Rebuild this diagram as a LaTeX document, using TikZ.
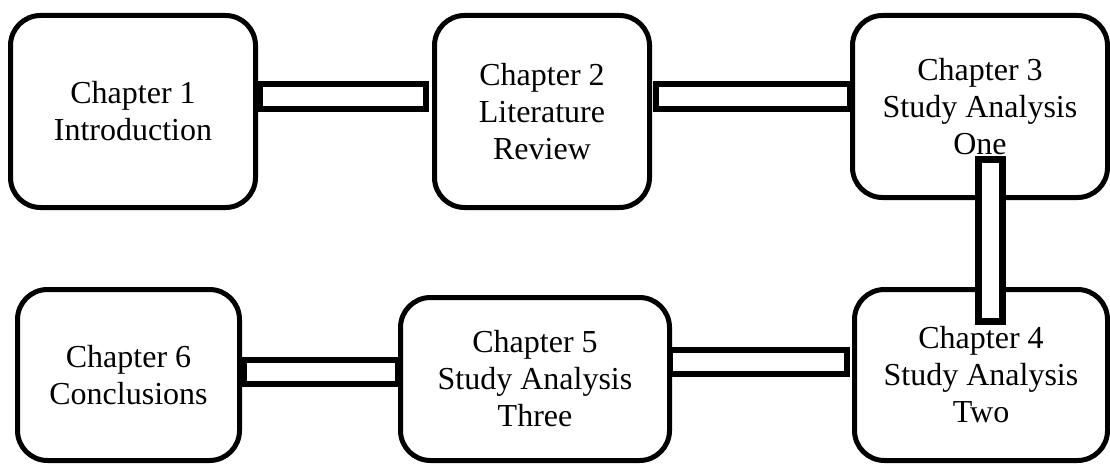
\documentclass[tikz,border=0pt]{standalone}
\usepackage{fontspec}
\setmainfont{Liberation Serif}
\usetikzlibrary{calc}
\begin{document}
\begin{tikzpicture}[x=1pt,y=-1pt,
  box/.style={draw, line width=5pt, rounded corners=30pt, fill=white, inner sep=0pt, outer sep=0pt,
    align=center, font=\fontsize{32}{37}\selectfont},
  bar/.style={draw, line width=6pt, fill=white},
  vbar/.style={draw, line width=7pt, fill=white}]
\useasboundingbox (0,0) rectangle (1110,465);
\node[box, minimum width=245pt, minimum height=192pt] (c1) at (133,111.5) {Chapter 1\\Introduction};
\node[box, minimum width=215pt, minimum height=192pt] (c2) at (542,111.5) {Chapter 2\\Literature\\Review};
\node[box, minimum width=255pt, minimum height=182pt] (c3) at (980,106.5) {Chapter 3\\Study Analysis\\One};
\node[box, minimum width=253pt, minimum height=171pt] (c4) at (981,375) {Chapter 4\\Study Analysis\\Two};
\node[box, minimum width=269pt, minimum height=163pt] (c5) at (535,379) {Chapter 5\\Study Analysis\\Three};
\node[box, minimum width=222pt, minimum height=171pt] (c6) at (128.5,375) {Chapter 6\\Conclusions};
\draw[bar] ($(c1.east)+(4.5,-27.5)$) rectangle ($(c2.west)+(-8.5,-2.5)$);
\draw[bar] ($(c2.east)+(6.5,-27.5)$) rectangle ($(c3.west)+(-2.5,2.5)$);
\draw[vbar] ($(c3.south)+(-1.5,-38)$) rectangle ($(c4.north)+(21.5,32)$);
\draw[bar] ($(c5.east)+(0.5,-29)$) rectangle ($(c4.west)+(-7.5,-1)$);
\draw[bar] ($(c6.east)+(4.5,-15)$) rectangle ($(c5.west)+(-2.5,5)$);
\end{tikzpicture}
\end{document}
